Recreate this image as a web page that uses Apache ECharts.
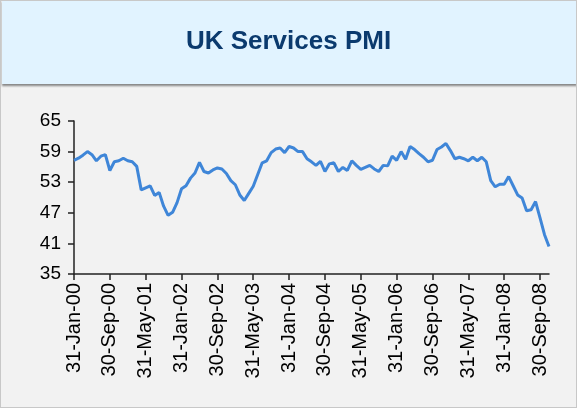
<!DOCTYPE html>
<html>
<head>
<meta charset="utf-8">
<title>UK Services PMI</title>
<script src="https://cdn.jsdelivr.net/npm/echarts@6/dist/echarts.min.js"></script>
<style>
    html, body { margin: 0; padding: 0; background: #f2f2f2; }
    #chart { width: 577px; height: 408px; }
</style>
</head>
<body>
<div id="chart"></div>
<script>
// 月份名称
let monthNames = ['Jan','Feb','Mar','Apr','May','Jun','Jul','Aug','Sep','Oct','Nov','Dec'];
let startYear = 2000;
// PMI 数值 (2000年1月 - 2008年11月, 每月)
let pmiValues = [
    57.3, 57.7, 58.3, 59.0, 58.4, 57.2, 58.1, 58.4, 55.3, 57.0, 57.2, 57.7,
    57.2, 57.0, 56.1, 51.5, 51.9, 52.3, 50.4, 51.0, 48.3, 46.5, 47.1, 49.0,
    51.7, 52.3, 53.8, 54.8, 56.9, 55.1, 54.8, 55.4, 55.8, 55.6, 54.7, 53.3,
    52.5, 50.5, 49.4, 50.8, 52.2, 54.5, 56.8, 57.2, 58.8, 59.5, 59.7, 58.8,
    60.0, 59.7, 59.0, 59.0, 57.6, 57.0, 56.3, 57.1, 55.1, 56.6, 56.8, 55.1,
    55.9, 55.3, 57.2, 56.3, 55.5, 55.9, 56.3, 55.6, 55.1, 56.3, 56.2, 58.1,
    57.3, 59.0, 57.5, 60.0, 59.4, 58.6, 57.9, 57.0, 57.3, 59.4, 59.9, 60.6,
    59.2, 57.6, 57.9, 57.6, 57.2, 57.9, 57.2, 57.9, 57.0, 53.3, 52.1, 52.6,
    52.6, 54.1, 52.3, 50.5, 49.9, 47.4, 47.6, 49.2, 46.0, 42.7, 40.4
];
// y轴刻度
let yMin = 35, yMax = 65, yStep = 6;

// 生成月末日期标签, 例如 31-Jan-00
let categories = [];
for (let i = 0; i < pmiValues.length; i++) {
    let y = startYear + Math.floor(i / 12);
    let m = i % 12;
    let lastDay = new Date(y, m + 1, 0).getDate();
    categories.push(lastDay + '-' + monthNames[m] + '-' + String(y).slice(2));
}

let chart = echarts.init(document.getElementById('chart'));
let option = {
    backgroundColor: '#f2f2f2',
    animation: false,
    title: {
        text: 'UK Services PMI',
        left: 'center',
        top: 24,
        textStyle: {
            fontFamily: 'Liberation Sans, Arial',
            fontSize: 26,
            fontWeight: 'bold',
            color: '#0b3a6e'
        }
    },
    // 顶部浅蓝标题栏 + 外框
    graphic: [
        {
            type: 'rect',
            shape: { x: 0, y: 0, width: 577, height: 408 },
            style: { fill: 'none', stroke: '#c8c8c8', lineWidth: 2 },
            silent: true
        },
        {
            type: 'rect',
            shape: { x: 2, y: 0, width: 575, height: 84 },
            style: {
                fill: '#e1f3ff',
                shadowColor: 'rgba(0,0,0,0.45)',
                shadowBlur: 2,
                shadowOffsetY: 2
            },
            z: -1,
            silent: true
        }
    ],
    grid: {
        left: 74,
        right: 28,
        top: 121,
        bottom: 134
    },
    xAxis: {
        type: 'category',
        data: categories,
        boundaryGap: false,
        axisLine: { lineStyle: { color: '#222', width: 1.5 } },
        axisTick: {
            alignWithLabel: true,
            interval: 7,
            length: 6,
            lineStyle: { color: '#222', width: 1.5 }
        },
        axisLabel: {
            interval: 7,
            rotate: 90,
            margin: 9,
            color: '#000',
            fontFamily: 'Liberation Sans, Arial',
            fontSize: 20
        }
    },
    yAxis: {
        type: 'value',
        min: yMin,
        max: yMax,
        interval: yStep,
        splitLine: { show: false },
        axisLine: { show: true, lineStyle: { color: '#222', width: 1.5 } },
        axisTick: { show: true, length: 6, lineStyle: { color: '#222', width: 1.5 } },
        axisLabel: {
            margin: 13,
            color: '#000',
            fontFamily: 'Liberation Sans, Arial',
            fontSize: 19
        }
    },
    series: [{
        name: 'UK Services PMI',
        type: 'line',
        data: pmiValues,
        showSymbol: false,
        lineStyle: { color: '#3f86d8', width: 3 },
        itemStyle: { color: '#3f86d8' }
    }]
};
chart.setOption(option);
</script>
</body>
</html>
